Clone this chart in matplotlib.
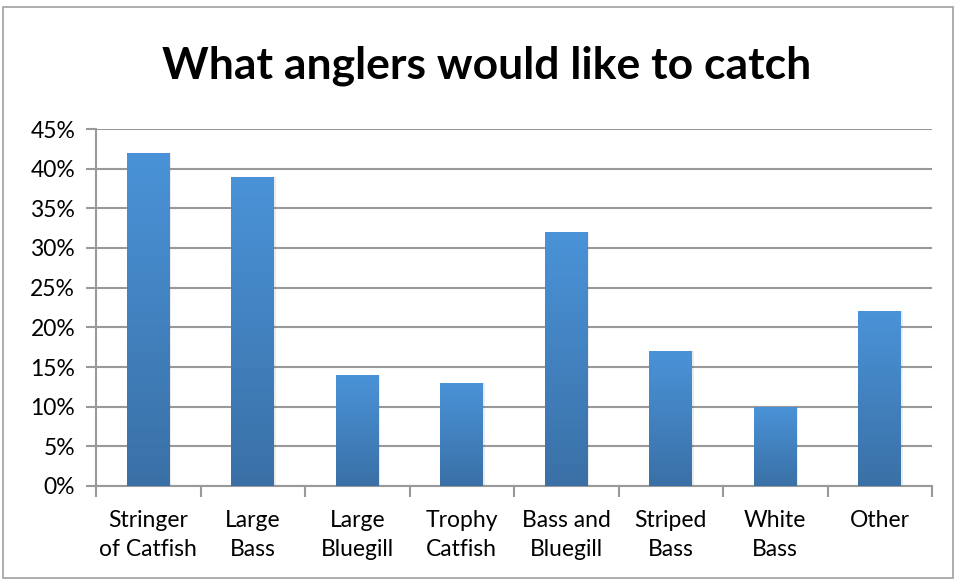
import matplotlib.pyplot as plt
import numpy as np
from matplotlib.patches import Rectangle
from matplotlib.colors import LinearSegmentedColormap

categories = ['Stringer\nof Catfish', 'Large\nBass', 'Large\nBluegill', 'Trophy\nCatfish',
              'Bass and\nBluegill', 'Striped\nBass', 'White\nBass', 'Other']
values = [42, 39, 14, 13, 32, 17, 10, 22]
yticks = [0, 5, 10, 15, 20, 25, 30, 35, 40, 45]

plt.rcParams['font.family'] = ['Lato', 'DejaVu Sans']

fig = plt.figure(figsize=(9.57, 5.79), dpi=100)
ax = fig.add_axes([96 / 957, 1 - 486 / 579, (932 - 96) / 957, (486 - 129) / 579])

grad = LinearSegmentedColormap.from_list('g', ['#3a70a6', '#4a93d8'])
x = np.arange(len(values))
bars = ax.bar(x, values, width=0.41, color='none', zorder=3)
img = np.linspace(0, 1, 256).reshape(-1, 1)
for b in bars:
    x0, w, h = b.get_x(), b.get_width(), b.get_height()
    # soft shadow
    ax.add_patch(Rectangle((x0 + 0.015, 0), w, h, color='#000000', alpha=0.08, zorder=2, lw=0))
    im = ax.imshow(img, cmap=grad, extent=[x0, x0 + w, 0, h], origin='lower',
                   aspect='auto', zorder=3)
    im.set_clip_path(b)

ax.set_xlim(-0.5, len(values) - 0.5)
ax.set_ylim(0, 45)
ax.set_yticks(yticks)
ax.set_yticklabels([f'{v}%' for v in yticks], fontsize=16.5)
ax.set_xticks(x)
ax.set_xticklabels(categories, fontsize=16.5, linespacing=1.5)
ax.set_xticks(np.arange(-0.5, len(values)), minor=True)
ax.tick_params(axis='x', which='major', length=0, pad=17)
ax.tick_params(axis='x', which='minor', length=8, width=1.5, color='#999999')
ax.tick_params(axis='y', length=7, width=1.5, color='#999999', pad=8)
ax.grid(axis='y', color='#999999', linewidth=1.5, zorder=0)
ax.set_axisbelow(True)
for s in ['top', 'right']:
    ax.spines[s].set_visible(False)
for s in ['left', 'bottom']:
    ax.spines[s].set_color('#999999')
    ax.spines[s].set_linewidth(1.5)

fig.text(487 / 957, 1 - 66 / 579, 'What anglers would like to catch', fontsize=32,
         fontweight='bold', ha='center', va='center')

fig.patches.append(Rectangle((3 / 957, 0.002), 950 / 957, 1 - 7 / 579 - 0.002,
                             transform=fig.transFigure, fill=False,
                             edgecolor='#a0a0a0', linewidth=1.2))

fig.savefig('out.png', dpi=100)
